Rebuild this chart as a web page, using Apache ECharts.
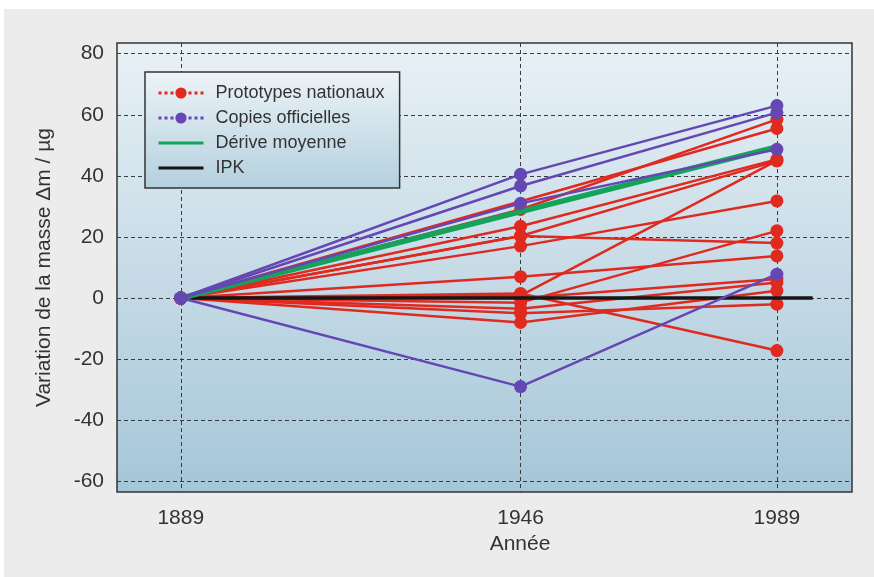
<!DOCTYPE html>
<html><head><meta charset="utf-8">
<script src="https://cdn.jsdelivr.net/npm/echarts@6/dist/echarts.min.js"></script>
<style>html,body{margin:0;padding:0;background:#fff}#c{width:874px;height:577px}</style>
</head><body><div id="c"></div>
<script>
// ---- data ----
const years = [1889, 1946, 1989];
const yTicks = [-60, -40, -20, 0, 20, 40, 60, 80];
// national prototypes: value in 1946 (null = not measured) and 1989, all 0 in 1889
const proto1946 = [29, null, 23.5, 20.3, 20.3, 0.8, 17, 7, -1.5, 1.5, -5, -8, -3.5, 0];
const proto1989 = [58.5, 55.5, 45.4, 44.9, 18, 45, 31.8, 13.8, 22, -17.2, -2, 2.4, 5.1, 6.2];
// official copies
const copies1946 = [40.5, 36.7, 31, -29];
const copies1989 = [63, 60.7, 48.7, 7.8];
// mean drift
const meanDrift = [0, 28.3, 49.5];
// IPK reference
const ipkYears = [1889, 1995];
const ipkValues = [0, 0];

const RED = '#e0291f', PURPLE = '#6547b3', GREEN = '#13a35b', BLACK = '#151515';
const FONT = 'Liberation Sans, Arial, sans-serif';

function track(v46, v89) {
  const d = [[years[0], 0]];
  if (v46 !== null) d.push([years[1], v46]);
  d.push([years[2], v89]);
  return d;
}
const series = [];
proto1946.forEach((v, i) => {
  series.push({
    name: 'Prototypes nationaux', type: 'line', data: track(v, proto1989[i]),
    symbol: 'circle', symbolSize: 13, color: RED,
    lineStyle: { width: 2.5, color: RED }, itemStyle: { color: RED },
    z: 2, animation: false
  });
});
series.push({
  name: 'IPK', type: 'line', data: ipkYears.map((x, i) => [x, ipkValues[i]]),
  symbol: 'none', color: BLACK, lineStyle: { width: 3.5, color: BLACK }, z: 3, animation: false
});
series.push({
  name: 'Dérive moyenne', type: 'line', data: years.map((x, i) => [x, meanDrift[i]]),
  symbol: 'none', color: GREEN, lineStyle: { width: 5.5, color: GREEN }, z: 4, animation: false
});
copies1946.forEach((v, i) => {
  series.push({
    name: 'Copies officielles', type: 'line', data: track(v, copies1989[i]),
    symbol: 'circle', symbolSize: 13, color: PURPLE,
    lineStyle: { width: 2.5, color: PURPLE }, itemStyle: { color: PURPLE },
    z: 5, animation: false
  });
});

const chart = echarts.init(document.getElementById('c'), null, { renderer: 'canvas' });
const dash = { color: '#3c3c3c', width: 1, type: [4, 3] };
const AX = 21;
chart.setOption({
  animation: false,
  textStyle: { fontFamily: FONT },
  graphic: [{
    type: 'rect', z: -100, silent: true,
    shape: { x: 4, y: 9, width: 870, height: 568 },
    style: { fill: '#ececec' }
  }],
  grid: {
    left: 117, right: 22, top: 43, bottom: 85, show: true,
    borderColor: '#333', borderWidth: 1.5,
    backgroundColor: new echarts.graphic.LinearGradient(0, 0, 0, 1, [
      { offset: 0, color: '#e9f1f6' }, { offset: 1, color: '#a5c6d8' }
    ])
  },
  legend: {
    left: 145, top: 72, orient: 'vertical',
    padding: [12, 15, 11, 12], itemGap: 7, itemWidth: 45, itemHeight: 14,
    borderColor: '#333', borderWidth: 1.5,
    backgroundColor: new echarts.graphic.LinearGradient(0, 0, 0, 1, [
      { offset: 0, color: '#edf3f7' }, { offset: 1, color: '#b3d0de' }
    ]),
    textStyle: { fontSize: 18, color: '#333', fontFamily: FONT, padding: [0, 0, 0, 7] },
    data: [
      { name: 'Prototypes nationaux', lineStyle: { type: 'dotted', width: 3 } },
      { name: 'Copies officielles', lineStyle: { type: 'dotted', width: 3 } },
      { name: 'Dérive moyenne', lineStyle: { width: 3 }, itemStyle: { opacity: 0 } },
      { name: 'IPK', lineStyle: { width: 3 }, itemStyle: { opacity: 0 } }
    ]
  },
  xAxis: {
    type: 'value', min: 1878.3, max: 2001.6,
    name: 'Année', nameLocation: 'middle', nameGap: 42,
    nameTextStyle: { fontSize: AX, color: '#333', padding: [0, 0, 0, 71] },
    axisLine: { show: false },
    axisTick: { show: false, customValues: years },
    axisLabel: { customValues: years, fontSize: AX, color: '#333', margin: 16, formatter: v => String(v) },
    splitLine: { show: true, lineStyle: dash }
  },
  yAxis: {
    type: 'value', min: -63.5, max: 83.5,
    name: 'Variation de la masse Δm / µg', nameLocation: 'middle', nameGap: 62,
    nameTextStyle: { fontSize: AX, color: '#333' },
    axisLine: { show: false },
    axisTick: { show: false, customValues: yTicks },
    axisLabel: { customValues: yTicks, fontSize: AX, color: '#333', margin: 13 },
    splitLine: { show: true, lineStyle: dash }
  },
  series: series
});
</script></body></html>
